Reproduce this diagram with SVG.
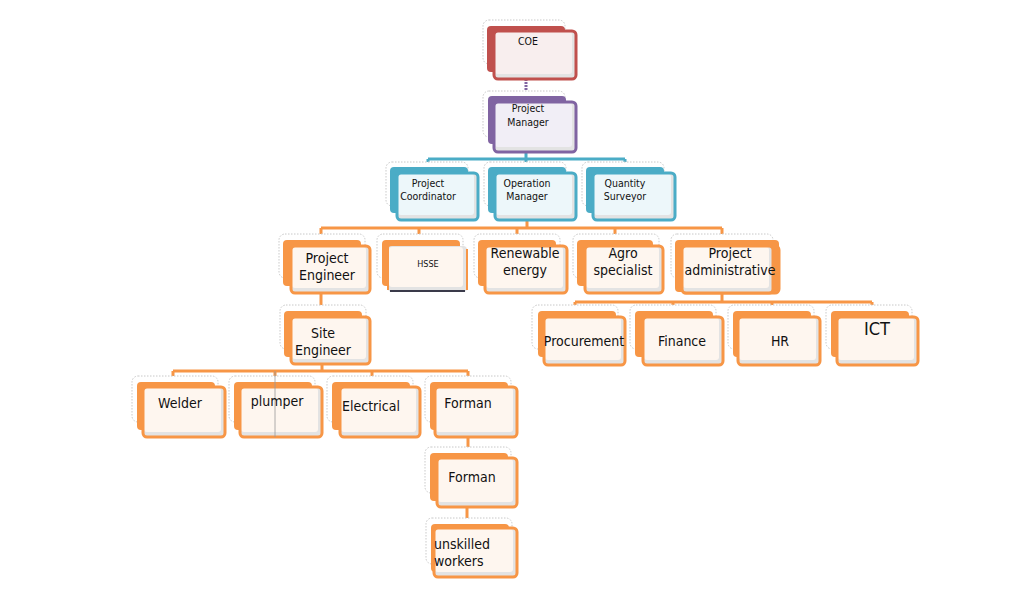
<svg xmlns="http://www.w3.org/2000/svg" width="1024" height="606" viewBox="0 0 1024 606">
<style>
.frame{fill:#fff;stroke:#c8c8c8;stroke-width:1;stroke-dasharray:1.5 1.5}
.shade{fill:#e3e3e3}
.edge{fill:none;stroke-width:3}
text{font-family:"DejaVu Sans Condensed","DejaVu Sans",sans-serif;fill:#111;text-anchor:middle}
.s{font-size:10.5px}
.m{font-size:14px}
.red .back{fill:#C0504D}.red .edge{stroke:#C0504D}.red .face{fill:#F8EEEE}
.pur .back{fill:#8064A2}.pur .edge{stroke:#8064A2}.pur .face{fill:#F1EEF6}
.teal .back{fill:#4BACC6}.teal .edge{stroke:#4BACC6}.teal .face{fill:#EDF7FA}
.org .back{fill:#F79646}.org .edge{stroke:#F79646}.org .face{fill:#FEF6EF}
.conn path{fill:none;stroke-width:3}
</style>
<rect width="1024" height="606" fill="#fff"/>
<g id="connectors" class="conn">
<path d="M526 79V102" stroke="#8064A2" stroke-dasharray="2 1"/>
<path d="M526 152V159M428 159H625M428 159V168M526 159V168M625 159V168" stroke="#4BACC6"/>
<path d="M527 220V228M321 228H722M321 228V240M419 228V240M517 228V240M615 228V240M722 228V240" stroke="#F79646"/>
<path d="M321 293V311" stroke="#F79646"/>
<path d="M322 364V371M173 371H468M173 371V382M275 371V382M372 371V382M468 371V382" stroke="#F79646"/>
<path d="M468 437V453" stroke="#F79646"/>
<path d="M467 507V524" stroke="#F79646"/>
<path d="M722 293V302M575 302H872M575 302V311M673 302V311M772 302V311M872 302V311" stroke="#F79646"/>
</g>

<g id="coe" class="red">
<rect class="frame" x="483" y="20" width="82" height="44" rx="6"/>
<rect class="back" x="487" y="26" width="78" height="46" rx="4"/>
<rect class="shade" x="494" y="31" width="82" height="48" rx="4"/>
<rect class="face" x="495" y="32" width="77" height="42" rx="3"/>
<rect class="edge" x="494" y="31" width="82" height="48" rx="4"/>
<text class="s" x="528" y="45">COE</text>
</g>

<g id="pm" class="pur">
<rect class="frame" x="483" y="91" width="82" height="46" rx="6"/>
<rect class="back" x="488" y="96" width="78" height="48" rx="4"/>
<rect class="shade" x="494" y="102" width="82" height="50" rx="4"/>
<rect class="face" x="495" y="103" width="77" height="44" rx="3"/>
<rect class="edge" x="494" y="102" width="82" height="50" rx="4"/>
<text class="s" x="528" y="112">Project</text>
<text class="s" x="528" y="126">Manager</text>
</g>

<g id="pc" class="teal">
<rect class="frame" x="386" y="162" width="82" height="44" rx="6"/>
<rect class="back" x="390" y="167" width="78" height="46" rx="4"/>
<rect class="shade" x="397" y="173" width="81" height="47" rx="4"/>
<rect class="face" x="398" y="174" width="76" height="41" rx="3"/>
<rect class="edge" x="397" y="173" width="81" height="47" rx="4"/>
<text class="s" x="428" y="187">Project</text>
<text class="s" x="428" y="200">Coordinator</text>
</g>

<g id="om" class="teal">
<rect class="frame" x="484" y="162" width="82" height="44" rx="6"/>
<rect class="back" x="488" y="167" width="78" height="46" rx="4"/>
<rect class="shade" x="495" y="173" width="81" height="47" rx="4"/>
<rect class="face" x="496" y="174" width="76" height="41" rx="3"/>
<rect class="edge" x="495" y="173" width="81" height="47" rx="4"/>
<text class="s" x="527" y="187">Operation</text>
<text class="s" x="527" y="200">Manager</text>
</g>

<g id="qs" class="teal">
<rect class="frame" x="582" y="162" width="82" height="44" rx="6"/>
<rect class="back" x="586" y="167" width="78" height="46" rx="4"/>
<rect class="shade" x="593" y="173" width="82" height="47" rx="4"/>
<rect class="face" x="594" y="174" width="77" height="41" rx="3"/>
<rect class="edge" x="593" y="173" width="82" height="47" rx="4"/>
<text class="s" x="625" y="187">Quantity</text>
<text class="s" x="625" y="200">Surveyor</text>
</g>

<g id="pe" class="org">
<rect class="frame" x="279" y="234" width="86" height="44" rx="6"/>
<rect class="back" x="283" y="240" width="78" height="46" rx="4"/>
<rect class="shade" x="291" y="246" width="79" height="47" rx="4"/>
<rect class="face" x="292" y="247" width="74" height="41" rx="3"/>
<rect class="edge" x="291" y="246" width="79" height="47" rx="4"/>
<text class="m" x="327" y="263">Project</text>
<text class="m" x="327" y="280">Engineer</text>
</g>

<g id="hsse" class="org">
<rect class="frame" x="377" y="234" width="86" height="44" rx="6"/>
<rect class="back" x="382" y="240" width="78" height="46" rx="4"/>
<rect class="shade" x="388" y="246" width="79" height="46" rx="4"/>
<rect class="face" x="389" y="247" width="74" height="40" rx="3"/>
<path d="M388 246V290M467 249V290" stroke="#F79646" stroke-width="2" fill="none"/>
<path d="M390 291H465" stroke="#3a3a4a" stroke-width="2"/>
<text x="428" y="267" style="font-size:9px">HSSE</text>
</g>

<g id="re" class="org">
<rect class="frame" x="474" y="234" width="86" height="44" rx="6"/>
<rect class="back" x="478" y="240" width="78" height="46" rx="4"/>
<rect class="shade" x="485" y="246" width="82" height="47" rx="4"/>
<rect class="face" x="486" y="247" width="77" height="41" rx="3"/>
<rect class="edge" x="485" y="246" width="82" height="47" rx="4"/>
<text class="m" x="525" y="258">Renewable</text>
<text class="m" x="525" y="275">energy</text>
</g>

<g id="agro" class="org">
<rect class="frame" x="573" y="234" width="86" height="44" rx="6"/>
<rect class="back" x="577" y="240" width="76" height="46" rx="4"/>
<rect class="shade" x="585" y="246" width="78" height="47" rx="4"/>
<rect class="face" x="586" y="247" width="73" height="41" rx="3"/>
<rect class="edge" x="585" y="246" width="78" height="47" rx="4"/>
<text class="m" x="623" y="258">Agro</text>
<text class="m" x="623" y="275">specialist</text>
</g>

<g id="admin" class="org">
<rect class="frame" x="671" y="234" width="102" height="44" rx="6"/>
<rect class="back" x="675" y="240" width="104" height="52" rx="4"/>
<rect class="edge" x="682" y="246" width="97" height="47" rx="4"/>
<rect class="shade" x="682" y="246" width="91" height="47" rx="4"/>
<rect class="face" x="683" y="247" width="86" height="41" rx="3"/>
<rect class="edge" x="682" y="246" width="91" height="47" rx="4"/>
<text class="m" x="730" y="258">Project</text>
<text class="m" x="730" y="275">administrative</text>
</g>

<g id="se" class="org">
<rect class="frame" x="280" y="305" width="86" height="44" rx="6"/>
<rect class="back" x="284" y="311" width="78" height="46" rx="4"/>
<rect class="shade" x="291" y="317" width="79" height="47" rx="4"/>
<rect class="face" x="292" y="318" width="74" height="41" rx="3"/>
<rect class="edge" x="291" y="317" width="79" height="47" rx="4"/>
<text class="m" x="323" y="338">Site</text>
<text class="m" x="323" y="355">Engineer</text>
</g>

<g id="proc" class="org">
<rect class="frame" x="532" y="305" width="86" height="44" rx="6"/>
<rect class="back" x="538" y="311" width="78" height="46" rx="4"/>
<rect class="shade" x="544" y="317" width="81" height="48" rx="4"/>
<rect class="face" x="545" y="318" width="76" height="42" rx="3"/>
<rect class="edge" x="544" y="317" width="81" height="48" rx="4"/>
<text class="m" x="584" y="346">Procurement</text>
</g>

<g id="fin" class="org">
<rect class="frame" x="630" y="305" width="86" height="44" rx="6"/>
<rect class="back" x="635" y="311" width="78" height="46" rx="4"/>
<rect class="shade" x="643" y="317" width="80" height="48" rx="4"/>
<rect class="face" x="644" y="318" width="75" height="42" rx="3"/>
<rect class="edge" x="643" y="317" width="80" height="48" rx="4"/>
<text class="m" x="682" y="346">Finance</text>
</g>

<g id="hr" class="org">
<rect class="frame" x="728" y="305" width="86" height="44" rx="6"/>
<rect class="back" x="733" y="311" width="78" height="46" rx="4"/>
<rect class="shade" x="738" y="317" width="82" height="48" rx="4"/>
<rect class="face" x="739" y="318" width="77" height="42" rx="3"/>
<rect class="edge" x="738" y="317" width="82" height="48" rx="4"/>
<text class="m" x="780" y="346">HR</text>
</g>

<g id="ict" class="org">
<rect class="frame" x="826" y="305" width="86" height="44" rx="6"/>
<rect class="back" x="831" y="311" width="78" height="46" rx="4"/>
<rect class="shade" x="837" y="317" width="81" height="48" rx="4"/>
<rect class="face" x="838" y="318" width="76" height="42" rx="3"/>
<rect class="edge" x="837" y="317" width="81" height="48" rx="4"/>
<text x="877" y="335" style="font-size:18px">ICT</text>
</g>

<g id="welder" class="org">
<rect class="frame" x="132" y="376" width="86" height="46" rx="6"/>
<rect class="back" x="137" y="382" width="78" height="48" rx="4"/>
<rect class="shade" x="143" y="387" width="82" height="50" rx="4"/>
<rect class="face" x="144" y="388" width="77" height="44" rx="3"/>
<rect class="edge" x="143" y="387" width="82" height="50" rx="4"/>
<text class="m" x="180" y="408">Welder</text>
</g>

<g id="plumper" class="org">
<rect class="frame" x="229" y="376" width="86" height="46" rx="6"/>
<rect class="back" x="234" y="382" width="78" height="48" rx="4"/>
<rect class="shade" x="240" y="387" width="82" height="50" rx="4"/>
<rect class="face" x="241" y="388" width="77" height="44" rx="3"/>
<rect class="edge" x="240" y="387" width="82" height="50" rx="4"/>
<path d="M275 371V437" stroke="#9a9a9a" stroke-width="0.8"/>
<text class="m" x="277" y="406">plumper</text>
</g>

<g id="elec" class="org">
<rect class="frame" x="327" y="376" width="86" height="46" rx="6"/>
<rect class="back" x="332" y="382" width="78" height="48" rx="4"/>
<rect class="shade" x="340" y="387" width="80" height="50" rx="4"/>
<rect class="face" x="341" y="388" width="75" height="44" rx="3"/>
<rect class="edge" x="340" y="387" width="80" height="50" rx="4"/>
<text class="m" x="371" y="411">Electrical</text>
</g>

<g id="forman1" class="org">
<rect class="frame" x="425" y="376" width="86" height="46" rx="6"/>
<rect class="back" x="430" y="382" width="78" height="48" rx="4"/>
<rect class="shade" x="435" y="387" width="82" height="50" rx="4"/>
<rect class="face" x="436" y="388" width="77" height="44" rx="3"/>
<rect class="edge" x="435" y="387" width="82" height="50" rx="4"/>
<text class="m" x="468" y="408">Forman</text>
</g>

<g id="forman2" class="org">
<rect class="frame" x="425" y="447" width="86" height="46" rx="6"/>
<rect class="back" x="430" y="453" width="78" height="48" rx="4"/>
<rect class="shade" x="437" y="458" width="80" height="49" rx="4"/>
<rect class="face" x="438" y="459" width="75" height="43" rx="3"/>
<rect class="edge" x="437" y="458" width="80" height="49" rx="4"/>
<text class="m" x="472" y="482">Forman</text>
</g>

<g id="unskilled" class="org">
<rect class="frame" x="426" y="518" width="86" height="46" rx="6"/>
<rect class="back" x="431" y="524" width="78" height="48" rx="4"/>
<rect class="shade" x="434" y="528" width="83" height="49" rx="4"/>
<rect class="face" x="435" y="529" width="78" height="43" rx="3"/>
<rect class="edge" x="434" y="528" width="83" height="49" rx="4"/>
<text class="m" x="434" y="549" style="text-anchor:start">unskilled</text>
<text class="m" x="434" y="566" style="text-anchor:start">workers</text>
</g>
</svg>
